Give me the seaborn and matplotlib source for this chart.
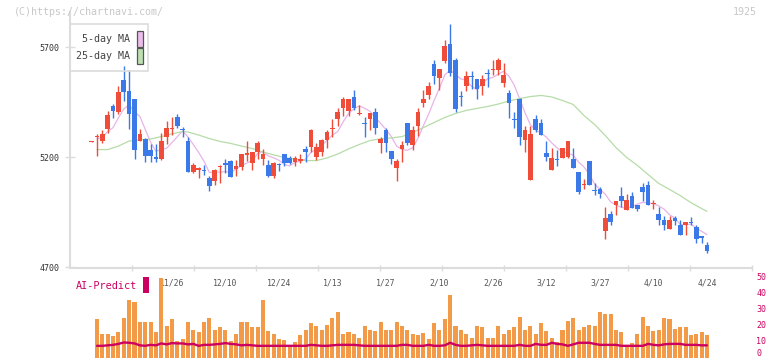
import numpy as np
import pandas as pd
import matplotlib
matplotlib.use("Agg")
import matplotlib.pyplot as plt
import matplotlib.transforms as mtransforms
from matplotlib.patches import Rectangle
import seaborn as sns

sns.set_theme(style="white")
plt.rcParams['font.family'] = ['DejaVu Sans Mono', 'DejaVu Sans']

# daily candles (index 0 = first day on the chart)
opens = [5272, 5293, 5277, 5329, 5432, 5408, 5553, 5500, 5464, 5274,
         5286, 5236, 5202, 5191, 5292, 5328, 5386, 5328, 5277, 5133,
         5144, 5141, 5109, 5094, 5156, 5177, 5186, 5146, 5156, 5212,
         5174, 5227, 5192, 5164, 5114, 5170, 5214, 5199, 5179, 5182,
         5238, 5247, 5201, 5227, 5280, 5331, 5374, 5426, 5412, 5473,
         5399, 5358, 5374, 5409, 5265, 5327, 5229, 5153, 5238, 5359,
         5256, 5342, 5447, 5482, 5627, 5560, 5638, 5714, 5641, 5479,
         5524, 5572, 5555, 5524, 5585, 5598, 5599, 5538, 5495, 5376,
         5467, 5280, 5099, 5373, 5359, 5220, 5144, 5194, 5197, 5201,
         5195, 5132, 5077, 5182, 5053, 5055, 4865, 4941, 4985, 5023,
         4960, 5023, 4986, 5068, 5073, 4988, 4945, 4915, 4874, 4924,
         4895, 4892, 4908, 4886, 4845, 4803]
highs = [5274, 5305, 5327, 5410, 5444, 5523, 5614, 5596, 5464, 5330,
         5290, 5262, 5262, 5312, 5368, 5385, 5398, 5338, 5292, 5177,
         5155, 5167, 5114, 5148, 5167, 5195, 5190, 5190, 5214, 5273,
         5225, 5273, 5240, 5190, 5180, 5177, 5217, 5205, 5209, 5217,
         5250, 5330, 5265, 5286, 5323, 5377, 5426, 5474, 5468, 5505,
         5438, 5383, 5400, 5426, 5295, 5333, 5229, 5195, 5274, 5359,
         5344, 5423, 5506, 5542, 5641, 5600, 5736, 5805, 5651, 5503,
         5595, 5591, 5555, 5577, 5600, 5641, 5651, 5630, 5509, 5409,
         5471, 5341, 5341, 5391, 5373, 5277, 5245, 5236, 5245, 5273,
         5241, 5132, 5100, 5182, 5082, 5068, 4973, 4959, 5000, 5064,
         5036, 5041, 4986, 5082, 5095, 5005, 4973, 4936, 4936, 4936,
         4914, 4909, 4929, 4895, 4845, 4818]
lows = [5272, 5205, 5264, 5310, 5380, 5399, 5459, 5330, 5193, 5274,
        5179, 5179, 5180, 5188, 5260, 5300, 5335, 5292, 5133, 5129,
        5106, 5120, 5047, 5074, 5083, 5129, 5110, 5118, 5142, 5182,
        5144, 5192, 5164, 5113, 5106, 5138, 5162, 5170, 5160, 5174,
        5179, 5224, 5190, 5209, 5244, 5295, 5345, 5390, 5388, 5414,
        5395, 5295, 5323, 5308, 5220, 5224, 5171, 5095, 5179, 5258,
        5236, 5297, 5429, 5464, 5536, 5506, 5629, 5570, 5406, 5433,
        5500, 5510, 5465, 5485, 5520, 5577, 5573, 5520, 5379, 5333,
        5259, 5224, 5099, 5315, 5301, 5183, 5144, 5160, 5197, 5197,
        5151, 5033, 5056, 5074, 5029, 5015, 4829, 4895, 4938, 4974,
        4960, 4970, 4956, 5001, 4985, 4965, 4895, 4871, 4874, 4892,
        4847, 4847, 4892, 4810, 4812, 4768]
closes = [5274, 5297, 5305, 5395, 5410, 5497, 5497, 5399, 5235, 5306,
          5205, 5205, 5192, 5273, 5335, 5332, 5341, 5324, 5133, 5164,
          5153, 5138, 5071, 5145, 5160, 5168, 5110, 5162, 5214, 5221,
          5223, 5264, 5214, 5115, 5177, 5166, 5174, 5177, 5199, 5194,
          5223, 5326, 5249, 5280, 5318, 5335, 5409, 5468, 5468, 5426,
          5403, 5354, 5400, 5333, 5285, 5265, 5192, 5183, 5259, 5264,
          5323, 5409, 5468, 5527, 5570, 5600, 5709, 5583, 5420, 5475,
          5571, 5568, 5510, 5559, 5581, 5602, 5641, 5577, 5447, 5372,
          5292, 5327, 5305, 5327, 5301, 5201, 5197, 5190, 5241, 5273,
          5151, 5042, 5081, 5074, 5049, 5033, 4927, 4909, 5000, 5000,
          5005, 4970, 4965, 5041, 4985, 4992, 4915, 4892, 4915, 4910,
          4847, 4909, 4904, 4829, 4833, 4774]

# 25-day moving average
ma25_idx = [1, 3, 5, 7, 9, 11, 13, 15, 17, 18, 20, 22, 24, 26, 28, 30, 32, 34,
            36, 38, 40, 42, 44, 46, 48, 50, 52, 54, 56, 58, 60, 62, 64, 66, 68,
            70, 72, 74, 76, 78, 80, 82, 84, 86, 88, 90, 92, 94, 96, 98, 100,
            102, 104, 106, 108, 110, 112, 114, 115]
ma25_val = [5236, 5236, 5252, 5275, 5280, 5284, 5295, 5307, 5318, 5316, 5302,
            5286, 5273, 5264, 5252, 5241, 5225, 5212, 5200, 5193, 5186, 5186,
            5198, 5216, 5239, 5259, 5277, 5285, 5289, 5295, 5314, 5336, 5359,
            5382, 5400, 5414, 5423, 5432, 5443, 5457, 5468, 5477, 5482, 5475,
            5459, 5441, 5391, 5350, 5300, 5245, 5200, 5164, 5123, 5082, 5055,
            5027, 4995, 4968, 4955]

# lower panel: volume bars and AI-Predict line (right axis 0-50)
volume = [np.nan,
          23.8, 14.4, 14.4, 13.3, 15.8, 24.4, 35.8, 35.0, 22.1, 22.1,
          22.1, 15.8, 49.4, 19.6, 23.8, 10.2, 11.3, 22.1, 17.1, 15.8,
          22.5, 25.0, 17.5, 18.8, 17.1, 10.2, 15.0, 22.5, 22.1, 18.8,
          18.8, 35.8, 16.5, 14.4, 11.7, 10.8, 6.5, 9.6, 13.8, 17.5,
          21.5, 19.6, 17.1, 20.6, 24.6, 28.3, 14.4, 15.8, 14.4, 12.1,
          19.6, 17.1, 16.5, 22.1, 17.1, 17.1, 22.1, 19.6, 16.9, 15.0,
          14.2, 15.4, 11.7, 21.3, 17.5, 24.2, 38.8, 19.6, 17.1, 14.4,
          12.1, 20.0, 18.8, 12.5, 12.5, 20.0, 14.4, 17.1, 18.8, 25.4,
          17.1, 19.6, 14.4, 21.3, 16.5, 12.5, 10.0, 17.5, 23.1, 24.8,
          16.9, 19.0, 20.6, 20.0, 28.5, 27.3, 27.3, 17.1, 15.8, 7.1,
          8.8, 15.0, 25.4, 19.6, 16.3, 17.5, 24.8, 24.2, 18.1, 19.2,
          18.8, 13.8, 15.0, 15.8, 13.8]
ai_predict = [np.nan,
              7.3, 7.3, 7.6, 7.9, 8.5, 9.4, 9.2, 8.8, 7.6, 7.3,
              7.9, 7.6, 8.8, 8.2, 9.0, 8.8, 8.8, 8.2, 8.5, 7.3,
              7.9, 7.9, 8.2, 8.5, 9.0, 8.5, 8.2, 7.6, 7.9, 7.6,
              7.3, 7.3, 7.3, 7.3, 7.3, 7.3, 7.3, 7.3, 7.3, 7.3,
              7.9, 7.6, 7.3, 7.3, 7.6, 7.9, 7.9, 7.9, 7.9, 7.6,
              7.3, 7.3, 7.3, 7.3, 7.3, 7.3, 7.3, 7.9, 7.9, 7.3,
              7.3, 7.3, 7.9, 7.3, 7.3, 7.6, 9.2, 7.9, 7.3, 7.3,
              7.6, 7.9, 7.6, 7.3, 7.3, 7.3, 7.3, 7.3, 7.3, 7.9,
              7.3, 7.3, 8.5, 7.9, 7.9, 9.2, 8.5, 8.2, 7.3, 8.2,
              9.2, 9.2, 9.2, 8.5, 7.9, 7.9, 7.9, 7.9, 7.3, 7.3,
              7.3, 7.3, 7.3, 8.5, 7.9, 7.6, 8.2, 8.5, 8.5, 8.5,
              7.9, 7.9, 7.9, 7.6, 7.6]
vol_ticks = [0, 10, 20, 30, 40, 50]

date_labels = ['11/26', '12/10', '12/24', '1/13', '1/27', '2/10',
               '2/26', '3/12', '3/27', '4/10', '4/24']
date_idx = [15, 25, 35, 45, 55, 65, 75, 85, 95, 105, 115]

RED = '#ef4c3a'
BLUE = '#3c79e8'
ORANGE = '#f39a48'
CRIMSON = '#cc0060'
GRID = '#dcdcdc'

df = pd.DataFrame({'o': opens, 'h': highs, 'l': lows, 'c': closes})
df['x'] = np.arange(len(df))
df['ma5'] = df['c'].rolling(5, min_periods=1).mean()
lower = pd.DataFrame({'x': np.arange(len(volume)), 'vol': volume, 'ai': ai_predict})

W, H = 772, 361
fig = plt.figure(figsize=(W / 100, H / 100), dpi=100)


def fx(px):
    return px / W


def fy(py):
    return 1 - py / H


# x range: pixel 70..752, candle 0 at ~91.7 px, pitch 5.35 px
x0 = (70 - 91.7) / 5.35
x1 = (752 - 91.7) / 5.35
y_top = 4700 + (267.5 - 12) * 1000 / 220

ax = fig.add_axes([fx(70), fy(267.5), fx(752) - fx(70), fy(12) - fy(267.5)])
ax.set_xlim(x0, x1)
ax.set_ylim(4700, y_top)

# moving averages
sns.lineplot(x=df['x'][1:], y=df['ma5'][1:], ax=ax, color='#e8b4ea', lw=0.9, zorder=2)
sns.lineplot(x=ma25_idx, y=ma25_val, ax=ax, color='#b6dca8', lw=0.9, zorder=2)

# candles
col = np.where(df['c'] >= df['o'], RED, BLUE)
ax.vlines(df['x'], df['l'], df['h'], colors=col, lw=1.0, zorder=3)
body_lo = np.minimum(df['o'], df['c'])
body_h = np.maximum((df['c'] - df['o']).abs(), 4.5)
ax.bar(df['x'], body_h, bottom=body_lo, width=0.86, color=col, linewidth=0, zorder=4)

for s in ['top', 'right']:
    ax.spines[s].set_visible(False)
for s in ['left', 'bottom']:
    ax.spines[s].set_color(GRID)
    ax.spines[s].set_linewidth(1.5)
ax.set_yticks([4700, 5200, 5700])
ax.set_yticklabels(['4700', '5200', '5700'])
ax.tick_params(axis='y', direction='inout', length=7, width=1, color=GRID,
               labelsize=6, labelcolor='#333333', pad=4.2, left=True)
ax.set_xticks(np.linspace(x0, x1, 12)[1:])
ax.set_xticklabels([])
ax.tick_params(axis='x', direction='inout', length=4, width=1, color=GRID, bottom=True)
ax.set_xlabel('')
ax.set_ylabel('')
ax.grid(False)

trans = mtransforms.blended_transform_factory(ax.transData, fig.transFigure)
for lab, i in zip(date_labels, date_idx):
    ax.text(i, fy(283), lab, transform=trans, ha='center', va='center',
            fontsize=5.9, color='#555555', clip_on=False)

# lower panel
vax = fig.add_axes([fx(70), fy(357.5), fx(752) - fx(70), fy(277.5) - fy(357.5)])
vax.patch.set_alpha(0)
vax.bar(lower['x'], lower['vol'], width=0.75, color=ORANGE, linewidth=0)
sns.lineplot(data=lower, x='x', y='ai', ax=vax, color=CRIMSON, lw=1.7)
vax.set_xlim(x0, x1)
vax.set_ylim(0, 50)
vax.set_xticks([])
vax.set_yticks([])
for s in vax.spines.values():
    s.set_visible(False)
vax.set_xlabel('')
vax.set_ylabel('')
vax.grid(False)

# right-hand scale of the lower panel
rtrans = mtransforms.blended_transform_factory(vax.transAxes, vax.transData)
for v in vol_ticks:
    vax.text(1.006, v, str(v), transform=rtrans, ha='left',
             va='bottom' if v == 0 else 'center', fontsize=6, color=CRIMSON,
             clip_on=False)

# header texts
fig.text(fx(14), fy(12), '(C)https://chartnavi.com/', color='#c8c8c8',
         fontsize=7.2, ha='left', va='center')
fig.text(fx(757), fy(12), '1925', color='#c8c8c8', fontsize=7.2, ha='right', va='center')

# legend box
fig.patches.append(Rectangle((fx(70), fy(71)), fx(148) - fx(70), fy(24) - fy(71),
                             transform=fig.transFigure, fill=False, edgecolor=GRID, lw=1.2))
fig.text(fx(129.5), fy(39.5), '5-day MA', color='#444444', fontsize=7.2, ha='right', va='center')
fig.text(fx(129.5), fy(56), '25-day MA', color='#444444', fontsize=7.2, ha='right', va='center')
fig.patches.append(Rectangle((fx(136.5), fy(46.5)), 6 / W, 15 / H, transform=fig.transFigure,
                             facecolor='#ebbdeb', edgecolor='#555555', lw=0.9))
fig.patches.append(Rectangle((fx(136.5), fy(63.5)), 6 / W, 15 / H, transform=fig.transFigure,
                             facecolor='#bde0b2', edgecolor='#555555', lw=0.9))

# AI-Predict label
fig.text(fx(76), fy(286), 'AI-Predict', color=CRIMSON, fontsize=7.3, ha='left', va='center')
fig.patches.append(Rectangle((fx(142.5), fy(293)), 6 / W, 16 / H, transform=fig.transFigure,
                             facecolor=CRIMSON, edgecolor='none'))

fig.savefig('out.png', dpi=100)
